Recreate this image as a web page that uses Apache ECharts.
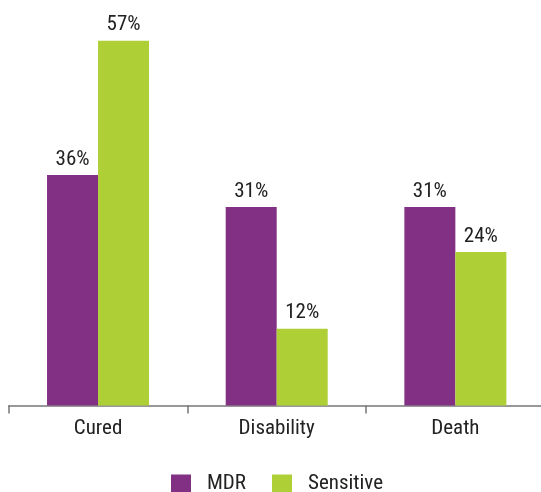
<!DOCTYPE html>
<html>
<head>
<meta charset="utf-8">
<script src="https://cdn.jsdelivr.net/npm/echarts@6/dist/echarts.min.js"></script>
<style>html,body{margin:0;padding:0;background:#fff;overflow:hidden}#c{width:548px;height:492px}</style>
</head>
<body>
<div id="c"></div>
<script>
var categories = ['Cured', 'Disability', 'Death'];
var mdrValues = [36, 31, 31];
var sensitiveValues = [57, 12, 24];
var seriesNames = ['MDR', 'Sensitive'];

var FONT = "'Roboto Condensed', 'Liberation Sans Narrow', sans-serif";
var chart = echarts.init(document.getElementById('c'), null, {renderer: 'canvas'});
var lbl = {
  show: true, position: 'top', distance: 5,
  formatter: '{c}%', color: '#222', fontSize: 21, fontFamily: FONT
};
chart.setOption({
  animation: false,
  grid: {left: 8.7, width: 536, top: 21.5, bottom: 86.5, containLabel: false},
  legend: {
    data: seriesNames, left: 171, top: 473.5, padding: 0,
    itemWidth: 20, itemHeight: 19, itemGap: 26, icon: 'rect',
    textStyle: {fontSize: 21, fontFamily: FONT, color: '#222', padding: [0, 0, 0, 11]}
  },
  xAxis: {
    type: 'category', data: categories,
    axisLine: {show: true, lineStyle: {color: '#777', width: 1.5}},
    axisTick: {show: true, interval: 0, length: 8, lineStyle: {color: '#777', width: 1.5}},
    axisLabel: {margin: 13, fontSize: 21, fontFamily: FONT, color: '#222'}
  },
  yAxis: {type: 'value', min: 0, max: 60, show: false, splitLine: {show: false}},
  series: [
    {name: seriesNames[0], type: 'bar', data: mdrValues, barWidth: 51, barGap: '0%',
     itemStyle: {color: '#823084'}, label: lbl},
    {name: seriesNames[1], type: 'bar', data: sensitiveValues, barWidth: 51, barGap: '0%',
     itemStyle: {color: '#afcf37'}, label: lbl}
  ]
});
</script>
</body>
</html>
